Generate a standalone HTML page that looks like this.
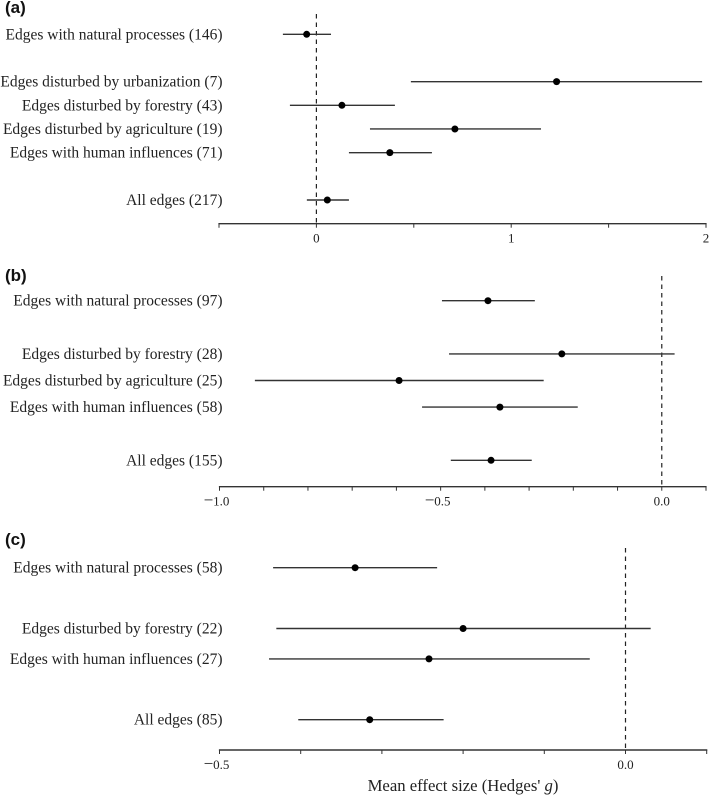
<!DOCTYPE html>
<html lang="en">
<head>
<meta charset="utf-8">
<title>Mean effect size forest plot</title>
<style>
html,body{margin:0;padding:0;background:#fff;width:709px;height:796px;overflow:hidden}
svg{display:block;filter:blur(0.3px)}
text{font-family:"Liberation Serif",serif;fill:#222}
.cat{font-size:15.5px;text-anchor:end}
.tick{font-size:13px;text-anchor:middle}
.panel{font-family:"Liberation Sans",sans-serif;font-size:17px;font-weight:bold;fill:#111}
.title{font-size:16.7px;text-anchor:middle}
</style>
</head>
<body>
<svg id="chart" width="709" height="796" viewBox="0 0 709 796" xmlns="http://www.w3.org/2000/svg"></svg>
<script>
// Panel (a)
const categoriesA = ["Edges with natural processes (146)", null, "Edges disturbed by urbanization (7)", "Edges disturbed by forestry (43)", "Edges disturbed by agriculture (19)", "Edges with human influences (71)", null, "All edges (217)"];
const meansA = [-0.05, null, 1.233, 0.131, 0.711, 0.377, null, 0.056];
const lowerA = [-0.172, null, 0.485, -0.136, 0.275, 0.167, null, -0.049];
const upperA = [0.075, null, 1.98, 0.403, 1.153, 0.593, null, 0.167];
const tickValuesA = [-0.5, 0, 0.5, 1, 1.5, 2];
const tickLabelsA = [null, "0", null, "1", null, "2"];

// Panel (b)
const categoriesB = ["Edges with natural processes (97)", null, "Edges disturbed by forestry (28)", "Edges disturbed by agriculture (25)", "Edges with human influences (58)", null, "All edges (155)"];
const meansB = [-0.393, null, -0.226, -0.594, -0.366, null, -0.386];
const lowerB = [-0.497, null, -0.481, -0.92, -0.542, null, -0.477];
const upperB = [-0.287, null, 0.029, -0.267, -0.19, null, -0.294];
const tickValuesB = [-1, -0.9, -0.8, -0.7, -0.6, -0.5, -0.4, -0.3, -0.2, -0.1, 0, 0.1];
const tickLabelsB = ["\u22121.0", null, null, null, null, "\u22120.5", null, null, null, null, "0.0", null];

// Panel (c)
const categoriesC = ["Edges with natural processes (58)", null, "Edges disturbed by forestry (22)", "Edges with human influences (27)", null, "All edges (85)"];
const meansC = [-0.333, null, -0.2, -0.242, null, -0.315];
const lowerC = [-0.434, null, -0.43, -0.439, null, -0.403];
const upperC = [-0.232, null, 0.031, -0.044, null, -0.224];
const tickValuesC = [-0.5, -0.4, -0.3, -0.2, -0.1, 0, 0.1];
const tickLabelsC = ["\u22120.5", null, null, null, null, "0.0", null];

const NS = "http://www.w3.org/2000/svg";
const svg = document.getElementById("chart");

function make(parent, tag, attrs, txt) {
  const el = document.createElementNS(NS, tag);
  for (const k in attrs) el.setAttribute(k, attrs[k]);
  if (txt !== undefined) el.textContent = txt;
  parent.appendChild(el);
  return el;
}

function drawPanel(cfg) {
  const x = v => cfg.x0 + (v - cfg.v0) * (cfg.x1 - cfg.x0) / (cfg.v1 - cfg.v0);
  const y = i => cfg.rowTop + i * cfg.rowStep;

  const g = make(svg, "g", {});
  
  

  const letter = make(g, "text", {x: 5, y: cfg.letterY, "class": "panel"}, "(" + cfg.id + ")");
  
  

  const zero = make(g, "line", {x1: x(0), x2: x(0), y1: cfg.zeroTop, y2: cfg.axisY, stroke: "#222", "stroke-width": 1.2, "stroke-dasharray": "4.5 4"});
  
  

  cfg.categories.forEach((cat, i) => {
    if (cat === null) return;
    const label = make(g, "text", {x: 222.5, y: y(i) + 5, "class": "cat"}, cat);
    
    

    const ci = make(g, "line", {x1: x(cfg.lower[i]), x2: x(cfg.upper[i]), y1: y(i), y2: y(i), stroke: "#333", "stroke-width": 1.4});
    
    

    const pt = make(g, "circle", {cx: x(cfg.means[i]), cy: y(i), r: 3.5, fill: "#000"});
    
    
  });

  const axis = make(g, "line", {x1: cfg.x0 - 0.6, x2: cfg.x1 + 0.6, y1: cfg.axisY, y2: cfg.axisY, stroke: "#333", "stroke-width": 1.4});
  
  

  cfg.ticks.forEach((t, i) => {
    const mark = make(g, "line", {x1: x(t), x2: x(t), y1: cfg.axisY, y2: cfg.axisY + 4, stroke: "#333", "stroke-width": 1});
    
    
    const text = cfg.tickLabels[i];
    if (text !== null) {
      const negative = text.charAt(0) === "\u2212";
      const lab = make(g, "text", {x: negative ? x(t) - 3 : x(t), y: cfg.axisY + 19, "class": "tick"});
      
      
      if (negative) {
        make(lab, "tspan", {"font-size": "17px"}, text.charAt(0));
        make(lab, "tspan", {}, text.slice(1));
      } else {
        lab.textContent = text;
      }
    }
  });
}

drawPanel({id: "a", categories: categoriesA, means: meansA, lower: lowerA, upper: upperA, ticks: tickValuesA, tickLabels: tickLabelsA,
  v0: -0.5, v1: 2, x0: 219, x1: 706, axisY: 223.7, zeroTop: 14, rowTop: 34.3, rowStep: 23.67, letterY: 13});
drawPanel({id: "b", categories: categoriesB, means: meansB, lower: lowerB, upper: upperB, ticks: tickValuesB, tickLabels: tickLabelsB,
  v0: -1, v1: 0.1, x0: 219.5, x1: 706, axisY: 486.7, zeroTop: 276, rowTop: 300.7, rowStep: 26.6, letterY: 281});
drawPanel({id: "c", categories: categoriesC, means: meansC, lower: lowerC, upper: upperC, ticks: tickValuesC, tickLabels: tickLabelsC,
  v0: -0.5, v1: 0.1, x0: 219.5, x1: 706.7, axisY: 750, zeroTop: 548, rowTop: 567.7, rowStep: 30.4, letterY: 545});

const axisTitle = make(svg, "text", {x: 463, y: 791, "class": "title"});


make(axisTitle, "tspan", {}, "Mean effect size (Hedges' ");
make(axisTitle, "tspan", {"font-style": "italic"}, "g");
make(axisTitle, "tspan", {}, ")");
</script>
</body>
</html>
